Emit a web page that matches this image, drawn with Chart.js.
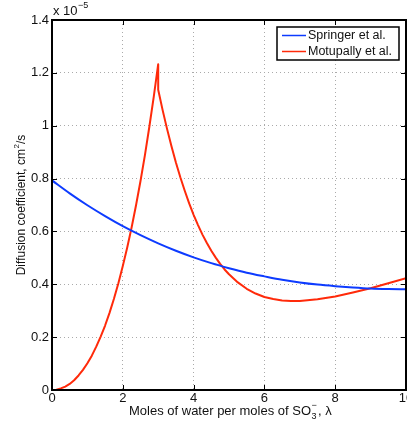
<!DOCTYPE html>
<html>
<head>
<meta charset="utf-8">
<script src="https://cdn.jsdelivr.net/npm/chart.js@4.4.0/dist/chart.umd.min.js"></script>
<style>
  html, body { margin: 0; padding: 0; background: #fff; }
  #wrap { width: 407px; height: 428px; position: relative; }
</style>
</head>
<body>
<div id="wrap"><canvas id="mycanvas" width="407" height="428"></canvas></div>
<script>
// values in units of 1e-5 cm^2/s
var springerLambda = [0,0.5,1,1.5,2,2.5,3,3.5,4,4.5,5,5.5,6,6.5,7,7.5,8,8.5,9,9.5,10];
var springerD = [0.793,0.744,0.699,0.658,0.620,0.586,0.555,0.527,0.502,0.480,0.461,0.444,0.430,0.417,0.407,0.399,0.393,0.388,0.384,0.382,0.381];

var motupallyLambda = [0,0.125,0.25,0.375,0.5,0.625,0.75,0.875,1,1.125,1.25,1.375,1.5,1.625,1.75,1.875,2,2.125,2.25,2.375,2.5,2.625,2.75,2.875,3,
	3,3.125,3.25,3.375,3.5,3.625,3.75,3.875,4,4.125,4.25,4.375,4.5,4.625,4.75,4.875,5,
	5.25,5.5,5.75,6,6.25,6.5,6.75,7,7.5,8,8.5,9,9.5,10];
var motupallyD = [0,0.001,0.006,0.013,0.023,0.037,0.055,0.076,0.101,0.130,0.164,0.202,0.244,0.292,0.345,0.404,0.469,0.539,0.616,0.700,0.791,0.889,0.996,1.110,1.233,
	1.136,1.059,0.988,0.922,0.861,0.805,0.754,0.706,0.663,0.624,0.588,0.556,0.527,0.501,0.477,0.456,0.438,
	0.407,0.383,0.365,0.352,0.344,0.339,0.337,0.337,0.343,0.354,0.369,0.385,0.404,0.423];

var xTicks = [0,2,4,6,8,10];
var yTicks = [0,0.2,0.4,0.6,0.8,1,1.2,1.4];

function pairs(xs, ys){
	var out = [];
	for (var i in xs) out.push({x: xs[i], y: ys[i]});
	return out;
}

var FONT = '"Liberation Sans", Arial, sans-serif';

// frame, inner ticks, legend, axis titles
var decor = {
	id: 'decor',
	afterDatasetsDraw: function(chart){
		var c = chart.ctx, a = chart.chartArea;
		var xs = chart.scales.x, ys = chart.scales.y;
		c.save();
		c.strokeStyle = '#000';
		c.lineWidth = 1;
		xTicks.forEach(function(t){
			var px = Math.round(xs.getPixelForValue(t)) + 0.5;
			c.beginPath();
			c.moveTo(px, a.bottom); c.lineTo(px, a.bottom - 5);
			c.moveTo(px, a.top); c.lineTo(px, a.top + 5);
			c.stroke();
		});
		yTicks.forEach(function(t){
			var py = Math.round(ys.getPixelForValue(t)) + 0.5;
			c.beginPath();
			c.moveTo(a.left, py); c.lineTo(a.left + 5, py);
			c.moveTo(a.right, py); c.lineTo(a.right - 5, py);
			c.stroke();
		});
		c.lineWidth = 2;
		c.strokeRect(a.left, a.top, a.right - a.left, a.bottom - a.top);

		// legend
		var lx = 277, ly = 27, lw = 122, lh = 33;
		c.fillStyle = '#fff';
		c.fillRect(lx, ly, lw, lh);
		c.lineWidth = 1.5;
		c.strokeRect(lx, ly, lw, lh);
		c.font = '12.5px ' + FONT;
		c.textBaseline = 'middle';
		chart.data.datasets.forEach(function(ds, i){
			var y = ly + 8.5 + i * 16;
			c.strokeStyle = ds.borderColor;
			c.lineWidth = 1.5;
			c.beginPath(); c.moveTo(lx + 5, y); c.lineTo(lx + 29, y); c.stroke();
			c.fillStyle = '#111';
			c.fillText(ds.label, lx + 31, y);
		});

		// exponent label
		c.fillStyle = '#111';
		c.textBaseline = 'alphabetic';
		c.font = '13px ' + FONT;
		c.fillText('x 10', 53, 15);
		c.font = '9px ' + FONT;
		c.fillText('\u22125', 78, 8);

		// x title
		c.font = '13px ' + FONT;
		var p1 = 'Moles of water per moles of SO', p2 = ', \u03bb';
		var w1 = c.measureText(p1).width;
		var x0 = 129, by = 415;
		c.fillText(p1, x0, by);
		c.font = '9px ' + FONT;
		c.fillText('\u2212', x0 + w1 + 0.5, by - 7);
		c.fillText('3', x0 + w1 + 0.5, by + 4);
		c.font = '13px ' + FONT;
		c.fillText(p2, x0 + w1 + 7, by);

		// y title
		c.translate(25, 205);
		c.rotate(-Math.PI / 2);
		c.font = '12px ' + FONT;
		var q1 = 'Diffusion coefficient, cm', q2 = '/s';
		var qw1 = c.measureText(q1).width, qw2 = c.measureText(q2).width;
		var tot = qw1 + 5 + qw2;
		var sx = -tot / 2;
		c.fillText(q1, sx, 0);
		c.font = '8px ' + FONT;
		c.fillText('2', sx + qw1 + 0.5, -6);
		c.font = '12px ' + FONT;
		c.fillText(q2, sx + qw1 + 5, 0);
		c.restore();
	}
};

var chartdata = {
	datasets: [
		{
			label: 'Springer et al.',
			data: pairs(springerLambda, springerD),
			borderColor: '#0d3bff',
			borderWidth: 2,
			showLine: true,
			cubicInterpolationMode: 'monotone',
			pointRadius: 0,
			fill: false
		},
		{
			label: 'Motupally et al.',
			data: pairs(motupallyLambda, motupallyD),
			borderColor: '#ff2a0a',
			borderWidth: 2,
			showLine: true,
			tension: 0,
			borderJoinStyle: 'round',
			pointRadius: 0,
			fill: false
		}
	]
};

function plain(v){ return String(v); }

var ctx = document.getElementById('mycanvas');
var graph = new Chart(ctx, {
	type: 'scatter',
	data: chartdata,
	plugins: [decor],
	options: {
		responsive: false,
		animation: false,
		layout: { padding: { top: 20, right: 1, left: 0, bottom: 0 } },
		plugins: { legend: { display: false }, tooltip: { enabled: false } },
		scales: {
			x: {
				type: 'linear', min: 0, max: 10,
				afterFit: function(s){ s.height = 38; s.paddingLeft = 0; s.paddingRight = 0; },
				afterBuildTicks: function(s){ s.ticks = xTicks.map(function(v){ return {value: v}; }); },
				grid: { color: '#aaa', drawTicks: false, lineWidth: 1 },
				border: { display: false, dash: [1, 3] },
				ticks: { color: '#111', font: { family: FONT, size: 13 }, padding: 1, maxRotation: 0, callback: plain }
			},
			y: {
				type: 'linear', min: 0, max: 1.4,
				afterFit: function(s){ s.width = 52; s.paddingTop = 0; s.paddingBottom = 0; },
				afterBuildTicks: function(s){ s.ticks = yTicks.map(function(v){ return {value: v}; }); },
				grid: { color: '#aaa', drawTicks: false, lineWidth: 1 },
				border: { display: false, dash: [1, 3] },
				ticks: { color: '#111', font: { family: FONT, size: 13 }, padding: 3, callback: plain }
			}
		}
	}
});
</script>
</body>
</html>
